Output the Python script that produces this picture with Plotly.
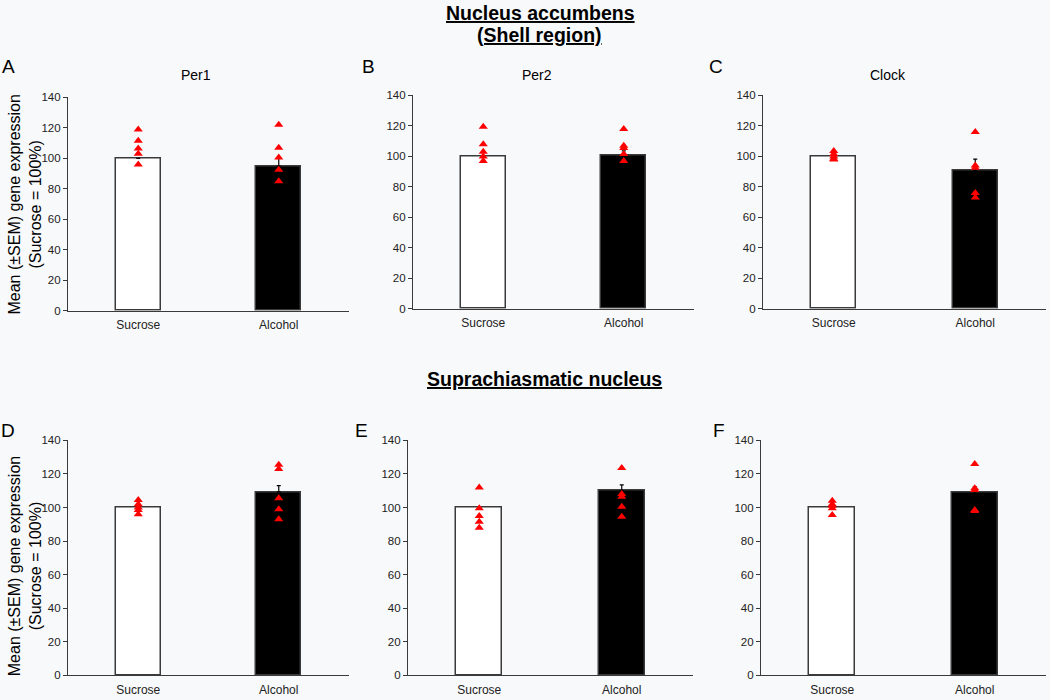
import plotly.graph_objects as go

groups = ["Sucrose", "Alcohol"]
panel_letters = ["A", "B", "C", "D", "E", "F"]
panel_titles = ["Per1", "Per2", "Clock", "", "", ""]
section_title_top = ["Nucleus accumbens", "(Shell region)"]
section_title_bottom = "Suprachiasmatic nucleus"
y_title = "Mean (±SEM) gene expression<br>(Sucrose = 100%)"

sucrose_mean = [100, 100, 100, 100, 100, 100]
alcohol_mean = [94.9, 100.6, 90.7, 109.3, 110.1, 109.3]
sucrose_sem = [0, 0, 0, 0, 0, 0]  # no whiskers visible on sucrose bars
alcohol_sem = [5.0, 3.0, 7.5, 3.8, 3.4, 3.0]

sucrose_points = [
    [119, 111.5, 106.5, 103, 96],
    [119.5, 108, 103, 100, 97],
    [103.5, 101.5, 100, 98.5, 98],
    [104.5, 102, 100, 98.5, 96],
    [112, 99.5, 95, 91.5, 88],
    [104, 102, 101, 99.5, 95.5],
]
alcohol_points = [
    [122, 107, 100.5, 92.5, 85],
    [118, 107, 105.5, 101.5, 97],
    [116, 94, 92.5, 76, 73],
    [125.5, 123, 105.5, 99, 93],
    [123.5, 108, 106.5, 100.5, 94.5],
    [126, 111.5, 110.5, 98.5, 98],
]

W, H = 1050, 700
# pixel layout of each panel: (x_left, x_right, y_top(140), y_bottom(0))
panels_px = [
    (68, 349, 93, 310),
    (413, 694, 91, 308),
    (763, 1046, 91, 308),
    (68, 349, 442, 681),
    (408, 693, 442, 681),
    (761, 1046, 442, 681),
]

fig = go.Figure()
axis_color = "#3a3a3a"
font_fam = "Liberation Sans, Arial, sans-serif"

for i in range(6):
    xa = "x" if i == 0 else f"x{i+1}"
    ya = "y" if i == 0 else f"y{i+1}"
    fig.add_trace(go.Bar(
        x=[0, 1], y=[sucrose_mean[i], alcohol_mean[i]],
        width=0.32,
        marker=dict(color=["white", "black"], line=dict(color=axis_color, width=1.5)),
        error_y=dict(type="data", array=[sucrose_sem[i], alcohol_sem[i]],
                     arrayminus=[0, 0], color="black", thickness=1.2, width=2),
        xaxis=xa, yaxis=ya, showlegend=False,
    ))
    fig.add_trace(go.Scatter(
        x=[0] * len(sucrose_points[i]) + [1] * len(alcohol_points[i]),
        y=sucrose_points[i] + alcohol_points[i],
        mode="markers",
        marker=dict(symbol="triangle-up", color="#ff0000", size=8),
        xaxis=xa, yaxis=ya, showlegend=False,
    ))
    xl, xr, yt, yb = panels_px[i]
    sfx = "" if i == 0 else str(i + 1)
    fig.layout["xaxis" + sfx] = dict(
        domain=[xl / W, xr / W], range=[-0.5, 1.5], anchor=ya,
        tickvals=[0, 1], ticktext=groups, showline=True, linecolor=axis_color,
        linewidth=1.2, ticks="outside", ticklen=3, tickcolor="rgba(0,0,0,0)",
        showgrid=False, zeroline=False,
        tickfont=dict(size=12, color="#222", family=font_fam),
    )
    fig.layout["yaxis" + sfx] = dict(
        domain=[1 - yb / H, 1 - yt / H], range=[0, 140], anchor=xa,
        dtick=20, showline=True, linecolor=axis_color, linewidth=1.2,
        ticks="outside", ticklen=4, tickcolor=axis_color, showgrid=False,
        zeroline=False, tickfont=dict(size=11.5, color="#222", family=font_fam),
    )

annotations = []
annotations.append(dict(x=540 / W, y=1 - 7 / H, text="<b><u>" + section_title_top[0] + "</u></b>",
                        font=dict(size=19.5, color="black", family=font_fam)))
annotations.append(dict(x=539 / W, y=1 - 29 / H, text="<b><u>" + section_title_top[1] + "</u></b>",
                        font=dict(size=19.5, color="black", family=font_fam)))
annotations.append(dict(x=544 / W, y=1 - 380 / H, text="<b><u>" + section_title_bottom + "</u></b>",
                        font=dict(size=19.5, color="black", family=font_fam)))
letter_pos = [(8, 62), (368, 62), (716, 62), (8, 432), (361, 432), (719, 432)]
for (px, py), t in zip(letter_pos, panel_letters):
    annotations.append(dict(x=px / W, y=1 - py / H, text=t,
                            font=dict(size=19, color="black", family=font_fam)))
title_pos = [(196, 70), (537, 70), (888, 70)]
for (px, py), t in zip(title_pos, panel_titles[:3]):
    annotations.append(dict(x=px / W, y=1 - py / H, text=t,
                            font=dict(size=14, color="black", family=font_fam)))
for cy in (202, 570):
    annotations.append(dict(x=25 / W, y=1 - cy / H, text=y_title,
                            textangle=-90, font=dict(size=16, color="black", family=font_fam)))
for a in annotations:
    a.update(xref="paper", yref="paper", showarrow=False, xanchor="center", yanchor="middle")

fig.update_layout(
    width=W, height=H, margin=dict(l=0, r=0, t=0, b=0),
    paper_bgcolor="#f8f9fb", plot_bgcolor="#f8f9fb",
    annotations=annotations, bargap=0,
    font=dict(family=font_fam),
)
fig.write_html(
    "out.html",
    config={"responsive": False, "displayModeBar": False},
    post_script="document.body.style.margin='0';document.body.style.overflow='hidden';document.body.style.background='#f8f9fb';",
)
